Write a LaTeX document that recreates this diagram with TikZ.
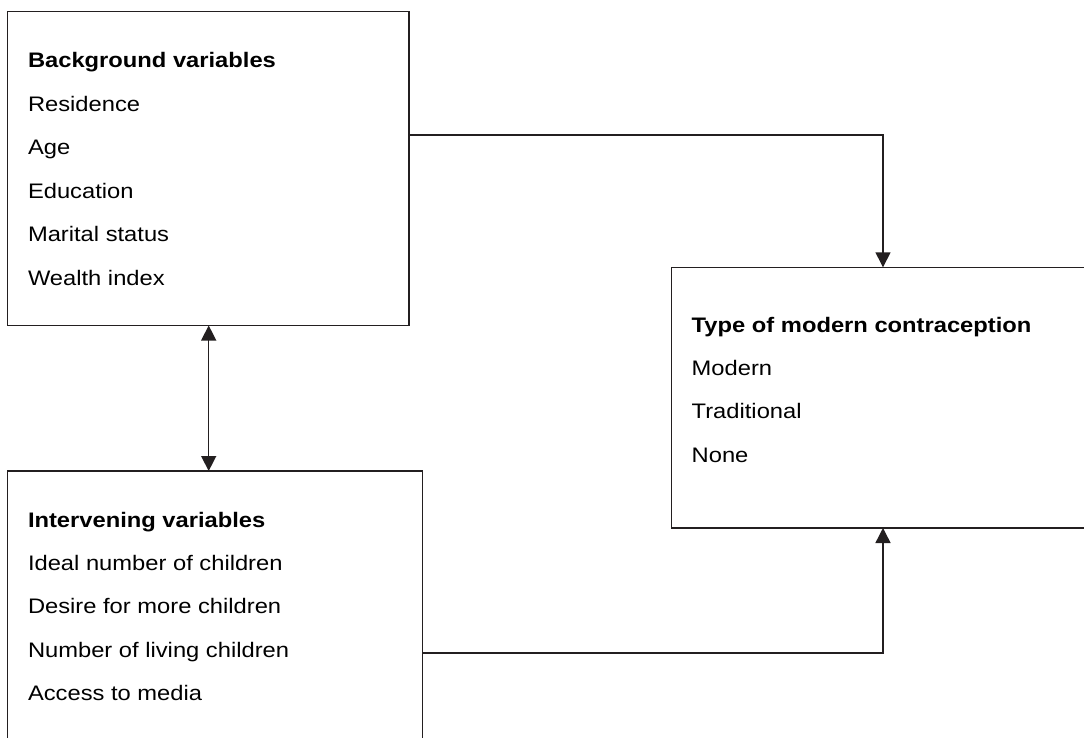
\documentclass[tikz,border=0pt]{standalone}
\usepackage{fontspec}
\setmainfont{Liberation Sans}
\usetikzlibrary{arrows.meta}
\definecolor{linecol}{HTML}{231F20}
\newcommand{\wide}[1]{\scalebox{1.13}[1]{#1}}
\begin{document}
\begin{tikzpicture}[x=1pt,y=-1pt,
  box/.style={draw=linecol, line width=1.6pt, inner sep=0pt, outer sep=0pt, anchor=north west},
  txt/.style={anchor=base west, inner sep=0pt, outer sep=0pt, font=\fontsize{21}{25}\selectfont},
  head/.style={txt, font=\fontsize{21}{25}\selectfont\bfseries},
  conn/.style={draw=linecol, line width=1.4pt},
  tip/.style={-{Triangle[width=15pt,length=15pt]}},
  tips both/.style={{Triangle[width=15pt,length=15pt]}-{Triangle[width=15pt,length=15pt]}}]
\useasboundingbox (0,0) rectangle (1084,738);
\clip (0,0) rectangle (1084,738);
\fill[white] (0,0) rectangle (1084,738);

% boxes
\node[box, minimum width=401.2pt, minimum height=314pt] (bg) at (7.5,11.5) {};
\node[box, minimum width=428.7pt, minimum height=260.7pt] (type) at (671.3,267.3) {};
\node[box, minimum width=415pt, minimum height=289pt] (intv) at (7.5,471) {};

% background texts
\node[head] (bgh) at (28,68) {\wide{Background variables}};
\node[txt] (bg1) at (28,111.5) {\wide{Residence}};
\node[txt] (bg2) at (28,155) {\wide{Age}};
\node[txt] (bg3) at (28,198.3) {\wide{Education}};
\node[txt] (bg4) at (28,241.6) {\wide{Marital status}};
\node[txt] (bg5) at (28,285) {\wide{Wealth index}};

% type texts
\node[head] (tyh) at (691.7,332.5) {\wide{Type of modern contraception}};
\node[txt] (ty1) at (691.7,375.5) {\wide{Modern}};
\node[txt] (ty2) at (691.7,418.8) {\wide{Traditional}};
\node[txt] (ty3) at (691.7,462) {\wide{None}};

% intervening texts
\node[head] (ivh) at (28,527.3) {\wide{Intervening variables}};
\node[txt] (iv1) at (28,570.5) {\wide{Ideal number of children}};
\node[txt] (iv2) at (28,613.8) {\wide{Desire for more children}};
\node[txt] (iv3) at (28,657) {\wide{Number of living children}};
\node[txt] (iv4) at (28,700.3) {\wide{Access to media}};

% connectors
\coordinate (c1) at (883,135);
\coordinate (c2) at (883,653);
\coordinate (c3) at (208.7,400);
\draw[conn,tip] (bg.east |- c1) -- (c1) -- (c1 |- type.north);
\draw[conn,tip] (intv.east |- c2) -- (c2) -- (c2 |- type.south);
\draw[conn,tips both] (c3 |- bg.south) -- (c3 |- intv.north);
\end{tikzpicture}
\end{document}
